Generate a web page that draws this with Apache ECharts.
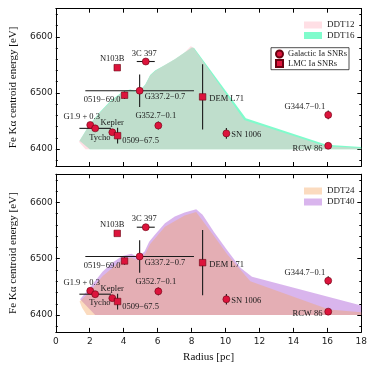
<!DOCTYPE html>
<html><head><meta charset="utf-8">
<script src="https://cdn.jsdelivr.net/npm/echarts@6/dist/echarts.min.js"></script>
<style>html,body{margin:0;padding:0;background:#fff}#c{width:372px;height:372px}</style>
</head><body><div id="c"></div>
<script>
// ---------- data ----------
const snrNames   = ['G1.9 + 0.3','Kepler','Tycho','3C 397','G337.2\u22120.7','G352.7\u22120.1','SN 1006','G344.7\u22120.1','RCW 86','N103B','0519\u221269.0','0509\u221267.5','DEM L71'];
const snrGroup   = ['Galactic','Galactic','Galactic','Galactic','Galactic','Galactic','Galactic','Galactic','Galactic','LMC','LMC','LMC','LMC'];
const snrRadius  = [2.03, 2.32, 3.33, 5.30, 4.94, 6.04, 10.05, 16.05, 16.05, 3.62, 4.05, 3.64, 8.65];
const snrEnergy  = [6443, 6437, 6430, 6556, 6504, 6442, 6428, 6461, 6406, 6545, 6496, 6424, 6493];
const snrRadiusErr = [0, 0.93, 0, 0.53, 3.2, 0, 0, 0, 0, 0, 0, 0, 0];
const snrEnergyErr = [0, 0, 0, 0, 29, 7, 9.5, 8, 4, 0, 6.5, 14, 58];

// model bands: upper and lower boundaries [radius, energy]
const ddt16Upper = [[1.40,6415],[1.97,6443],[2.56,6465],[3.23,6486],[3.97,6503],[4.40,6506],[4.85,6501],[5.27,6515],[5.56,6532],[5.85,6540],[6.43,6550],[7.01,6560],[7.59,6572],[8.01,6581],[8.15,6580],[11.20,6455],[15.95,6408],[18.0,6404]];
const ddt16Lower = [[1.40,6415],[2.00,6400],[18.0,6400]];
const ddt12Upper = [[1.36,6413],[1.97,6442],[2.56,6464],[3.23,6485],[3.97,6502],[4.40,6505],[4.85,6500],[5.27,6514],[5.56,6531],[5.85,6539],[6.43,6550],[7.01,6560],[7.59,6572],[7.95,6583],[8.10,6581],[11.10,6452],[15.90,6405],[18.0,6402]];
const ddt12Lower = [[1.36,6413],[1.75,6400],[18.0,6400]];
const ddt40Upper = [[1.43,6428],[1.97,6447],[2.75,6477],[3.33,6493],[3.91,6505],[4.45,6509],[4.84,6503],[5.23,6513],[5.50,6530],[5.85,6543],[6.43,6563],[7.01,6575],[7.59,6582],[8.27,6588],[8.65,6578],[9.33,6547],[10.10,6515],[10.88,6484],[11.56,6468],[18.0,6417]];
const ddt40Lower = [[1.43,6428],[2.32,6400],[18.0,6400]];
const ddt24Upper = [[1.40,6424],[1.97,6440],[2.75,6469],[3.91,6498],[4.45,6502],[4.88,6497],[5.27,6509],[5.56,6526],[6.43,6557],[7.59,6577],[8.27,6583],[9.33,6540],[10.10,6508],[11.46,6460],[16.10,6410],[18.0,6405]];
const ddt24Lower = [[1.40,6424],[1.55,6413],[1.82,6400],[18.0,6400]];

const xTickValues = [0,2,4,6,8,10,12,14,16,18];
const yMajorTicks = [6400, 6500, 6600];
const yMinorTicks = [6380,6420,6440,6460,6480,6520,6540,6560,6580,6620,6640];

// ---------- styling ----------
const labelPlace = {
  'G1.9 + 0.3':['center',-8.5,-8], 'Kepler':['center',17,-5.5], 'Tycho':['center',-12.5,5],
  '3C 397':['center',-1.5,-8], 'G337.2\u22120.7':['left',5,6.5], 'G352.7\u22120.1':['center',-2.5,-10],
  'SN 1006':['left',5,1.3], 'G344.7\u22120.1':['right',-3,-8.4], 'RCW 86':['right',-5.7,2.6],
  'N103B':['center',-5,-9], '0519\u221269.0':['right',-4,4.7], '0509\u221267.5':['left',4.7,5], 'DEM L71':['left',6.7,1.6]
};
const SERIF = 'Liberation Serif', SANS = 'DejaVu Sans';
const col = { ddt12:'rgba(255,192,203,0.5)', ddt16:'rgba(0,250,154,0.5)', ddt24:'rgba(244,164,96,0.4)', ddt40:'rgba(160,70,210,0.4)' };
const G = [{left:51.3, top:8.7, width:310, height:157.3},{left:51.3, top:174.3, width:310, height:157.6}];

function poly(upper, lower) { return upper.concat(lower.slice(1).reverse()); }
function bandSeries(name, pts, color, gi, z) {
  return {type:'custom', name, xAxisIndex: gi*2, yAxisIndex: gi*4, data: pts, z, silent:true,
    itemStyle:{color},
    renderItem: function(params, api){
      if (params.dataIndex !== 0) return null;
      return {type:'polygon', shape:{points: pts.map(p=>api.coord(p))}, style:{fill: color}};
    }};
}
function errSeries(gi) {
  const d = snrRadius.map((r,i)=>[r, snrEnergy[i], snrRadiusErr[i], snrEnergyErr[i]]);
  return {type:'custom', xAxisIndex: gi*2, yAxisIndex: gi*4, data:d, z:5, silent:true,
    renderItem: function(params, api){
      const r=api.value(0), e=api.value(1), dx=api.value(2), de=api.value(3);
      const ch=[]; const st={stroke:'#1a1a1a', lineWidth:1.1};
      if (dx>0){const a=api.coord([r-dx,e]), b=api.coord([r+dx,e]); ch.push({type:'line',shape:{x1:a[0],y1:a[1],x2:b[0],y2:b[1]},style:st});}
      if (de>0){const a=api.coord([r,e-de]), b=api.coord([r,e+de]); ch.push({type:'line',shape:{x1:a[0],y1:a[1],x2:b[0],y2:b[1]},style:st});}
      return {type:'group', children:ch};
    }};
}
function pointSeries(gi, group, name, symbol, size) {
  const d = [];
  snrNames.forEach((n,i)=>{ if (snrGroup[i]!==group) return;
    const p = labelPlace[n];
    d.push({name:n, value:[snrRadius[i], snrEnergy[i]],
      label:{show:true, formatter:n, position:'inside', align:p[0], verticalAlign:'middle', offset:[p[1],p[2]],
        fontFamily:SERIF, fontSize:8.5, color:'#1a1a1a'}});
  });
  return {type:'scatter', name, xAxisIndex: gi*2, yAxisIndex: gi*4, data:d, symbol, symbolSize:size, z:6,
    itemStyle:{color:'#dc143c', borderColor:'#6a0010', borderWidth:0.6, opacity:1},
    emphasis:{disabled:true}};
}
const lineSt = {color:'#000', width:1};
const fmt = v => String(Math.round(v));
function xAx(gi, position, labels, name) {
  return {type:'value', gridIndex:gi, position, min:0, max:18, interval:2,
    axisLine:{show:true, onZero:false, lineStyle:lineSt},
    axisTick:{show:true, inside:true, length:4, lineStyle:lineSt},
    axisLabel:{show:labels, formatter:fmt, fontFamily:SANS, fontSize:9, color:'#222', margin:5},
    splitLine:{show:false},
    name: name||'', nameLocation:'middle', nameGap:20,
    nameTextStyle:{fontFamily:SERIF, fontSize:11, color:'#111'}};
}
function yAx(gi, position, major, labels, name) {
  return {type:'value', gridIndex:gi, position, min:6370, max:6650,
    axisLine:{show:true, onZero:false, lineStyle:lineSt},
    axisTick:{show:true, inside:true, length: major?4:2, customValues: major?yMajorTicks:yMinorTicks, lineStyle:lineSt},
    axisLabel:{show:labels, customValues:yMajorTicks, formatter:fmt, fontFamily:SANS, fontSize:9, color:'#222', margin:3},
    splitLine:{show:false},
    name: name||'', nameLocation:'middle', nameGap:30, nameRotate:90,
    nameTextStyle:{fontFamily:SERIF, fontSize:11, color:'#111'}};
}
const yTitle = 'Fe K\u03b1 centroid energy [eV]';
const legendText = {fontFamily:SERIF, fontSize:9, color:'#222', lineHeight:9};

const option = {
  animation:false,
  backgroundColor:'#fff',
  grid: G,
  xAxis: [xAx(0,'bottom',false), xAx(0,'top',false), xAx(1,'bottom',true,'Radius [pc]'), xAx(1,'top',false)],
  yAxis: [yAx(0,'left',true,true,yTitle), yAx(0,'left',false,false), yAx(0,'right',true,false), yAx(0,'right',false,false),
          yAx(1,'left',true,true,yTitle), yAx(1,'left',false,false), yAx(1,'right',true,false), yAx(1,'right',false,false)],
  legend: [
    {data:[{name:'DDT12',icon:'rect'},{name:'DDT16',icon:'rect'}], orient:'vertical', left:304, top:20.5,
     itemWidth:18, itemHeight:7, itemGap:1.5, padding:0, textStyle:legendText, selectedMode:false},
    {data:[{name:'DDT24',icon:'rect'},{name:'DDT40',icon:'rect'}], orient:'vertical', left:304, top:186.5,
     itemWidth:18, itemHeight:7, itemGap:2, padding:0, textStyle:legendText, selectedMode:false},
    {data:[{name:'Galactic Ia SNRs',icon:'circle'},{name:'LMC Ia SNRs',icon:'rect'}], orient:'vertical', left:271, top:47.7,
     itemWidth:7, itemHeight:7, itemGap:0, padding:[1.5,2,1.5,4], borderColor:'#222', borderWidth:0.8, borderRadius:0,
     backgroundColor:'rgba(255,255,255,0.85)', textStyle:{fontFamily:SERIF, fontSize:8.5, color:'#222', lineHeight:9.5}, selectedMode:false}
  ],
  series: [
    bandSeries('DDT16', poly(ddt16Upper, ddt16Lower), col.ddt16, 0, 1),
    bandSeries('DDT12', poly(ddt12Upper, ddt12Lower), col.ddt12, 0, 2),
    bandSeries('DDT40', poly(ddt40Upper, ddt40Lower), col.ddt40, 1, 1),
    bandSeries('DDT24', poly(ddt24Upper, ddt24Lower), col.ddt24, 1, 2),
    errSeries(0), errSeries(1),
    pointSeries(0,'Galactic','Galactic Ia SNRs','circle',7),
    pointSeries(0,'LMC','LMC Ia SNRs','rect',6.5),
    pointSeries(1,'Galactic','Galactic Ia SNRs','circle',7),
    pointSeries(1,'LMC','LMC Ia SNRs','rect',6.5)
  ]
};
const chart = echarts.init(document.getElementById('c'), null, {renderer:'canvas'});
chart.setOption(option);
</script></body></html>
